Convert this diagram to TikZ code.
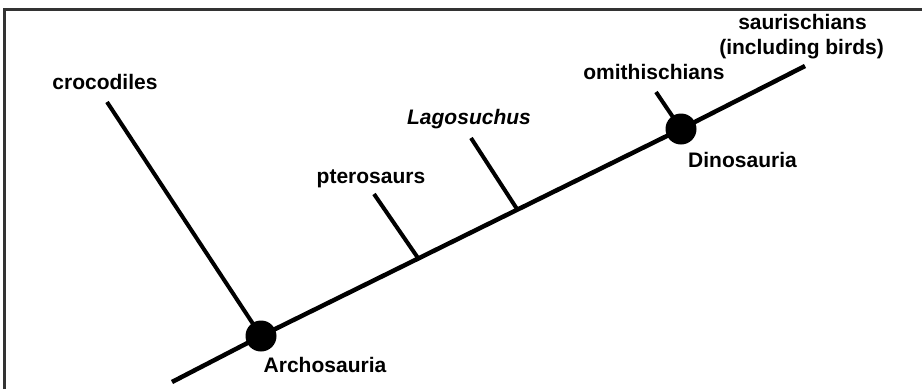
\documentclass[tikz,border=0pt]{standalone}
\usepackage{fontspec}
\setmainfont{Liberation Sans}
\begin{document}
\begin{tikzpicture}[x=1pt,y=-1pt,
  branch/.style={line width=4pt,line cap=butt},
  stem/.style={line width=4.5pt},
  clade/.style={circle,fill=black,inner sep=0pt,minimum size=31pt},
  taxon/.style={font=\fontsize{21}{25}\selectfont\bfseries,inner sep=0pt,anchor=base,align=center},
  frame/.style={line width=2.5pt,draw=black!80}]
\useasboundingbox (0,0) rectangle (922,389);
% frame (top and left edges)
\draw[frame] (4.5,389) -- (4.5,9.5) -- (922,9.5);
% clade nodes
\node[clade] (arch) at (261,336) {};
\node[clade] (dino) at (681,129) {};
% branch ends and junctions
\coordinate (root) at (172,382);
\coordinate (sauTip) at (805,66);
\coordinate (croTip) at (107,102);
\coordinate (ptJ) at (418,258);
\coordinate (ptTip) at (374,194);
\coordinate (lgJ) at (517,209);
\coordinate (lgTip) at (471,138);
\coordinate (orTip) at (656,92);
% main stem
\draw[stem] (root) -- (arch.center) -- (dino.center) -- (sauTip);
% side branches
\draw[branch] (croTip) -- (arch.center);
\draw[branch] (ptTip) -- (ptJ);
\draw[branch] (lgTip) -- (lgJ);
\draw[branch] (orTip) -- (dino.center);
% labels
\node[taxon] (lcro) at (105,89) {crocodiles};
\node[taxon] (larch) at (325,372) {Archosauria};
\node[taxon] (lpt) at (371,183) {pterosaurs};
\node[taxon] (llg) at (469,124) {\itshape Lagosuchus};
\node[taxon] (lor) at (654,79) {omithischians};
\node[taxon] (ldino) at (742.5,167) {Dinosauria};
\node[taxon] (lsau1) at (802.5,29.5) {saurischians};
\node[taxon] (lsau2) at (801.5,54) {(including birds)};
\end{tikzpicture}
\end{document}
